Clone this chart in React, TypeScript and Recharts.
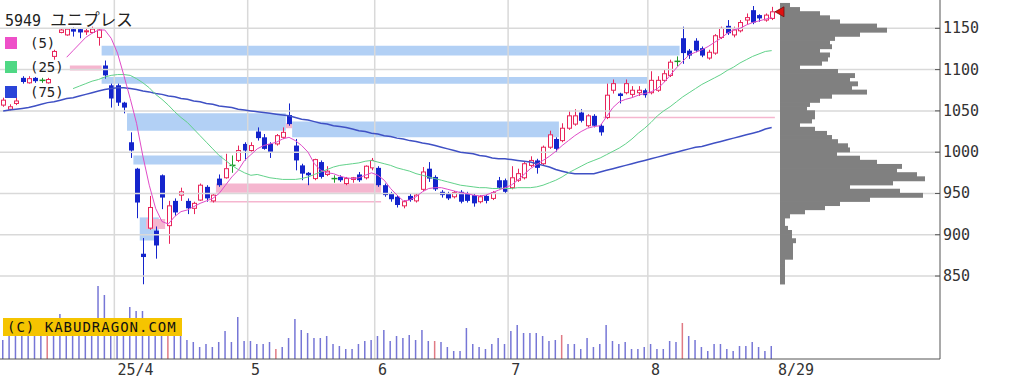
import React from "react";
import {
  Bar,
  BarChart,
  Cell,
  ComposedChart,
  Line,
  ReferenceArea,
  ReferenceDot,
  ReferenceLine,
  XAxis,
  YAxis,
} from "recharts";

const MONO = '"DejaVu Sans Mono", monospace';
const CJK = '"Noto Sans CJK JP", sans-serif';

// daily OHLC, 2025 March .. 8/29
const opens = [
  1057, 1052, 1059, 1090, 1084, 1090, 1087, 1084, 1116, 1145,
  1142, 1149, 1149, 1146, 1145, 1139, 1105, 1081, 1081, 1060,
  1012, 980, 877, 908, 905, 972, 911, 941, 948, 941,
  932, 942, 958, 941, 968, 969, 984, 990, 1010, 1002,
  1025, 1018, 1010, 1010, 1018, 1045, 1008, 984, 975, 968,
  988, 973, 968, 970, 962, 967, 973, 969, 981, 981,
  960, 950, 946, 935, 947, 941, 955, 980, 970, 952,
  950, 946, 952, 950, 948, 940, 947, 944, 966, 966,
  957, 966, 969, 984, 990, 986, 1006, 1016, 1014, 1029,
  1034, 1048, 1032, 1044, 1032, 1042, 1075, 1071, 1072, 1070,
  1072, 1075, 1072, 1075, 1087, 1093, 1110, 1138, 1123, 1135,
  1126, 1114, 1120, 1139, 1153, 1142, 1147, 1160, 1172, 1166,
  1160, 1162,
];
const highs = [
  1066, 1058, 1066, 1092, 1092, 1091, 1090, 1090, 1124, 1150,
  1150, 1151, 1150, 1150, 1152, 1150, 1111, 1083, 1083, 1061,
  1024, 981, 896, 947, 910, 973, 941, 944, 957, 944,
  940, 962, 960, 950, 973, 998, 996, 1008, 1012, 1012,
  1030, 1022, 1012, 1022, 1030, 1059, 1016, 986, 976, 992,
  990, 983, 972, 972, 970, 970, 976, 984, 993, 983,
  962, 952, 948, 942, 950, 950, 982, 988, 972, 954,
  952, 953, 954, 952, 950, 948, 948, 953, 970, 968,
  983, 980, 988, 995, 992, 1008, 1026, 1018, 1035, 1050,
  1052, 1052, 1046, 1046, 1034, 1083, 1088, 1072, 1088, 1080,
  1080, 1077, 1098, 1092, 1100, 1112, 1116, 1152, 1125, 1138,
  1128, 1124, 1143, 1152, 1160, 1152, 1160, 1168, 1177, 1167,
  1168, 1176,
];
const lows = [
  1055, 1050, 1057, 1083, 1083, 1084, 1084, 1083, 1112, 1144,
  1141, 1140, 1138, 1142, 1144, 1129, 1089, 1054, 1056, 1047,
  993, 920, 840, 906, 871, 931, 889, 923, 941, 925,
  925, 941, 940, 939, 958, 968, 975, 988, 990, 1000,
  1014, 1003, 993, 1008, 1016, 1032, 978, 966, 960, 966,
  968, 971, 963, 964, 960, 963, 964, 967, 978, 958,
  946, 940, 933, 932, 940, 939, 953, 964, 953, 945,
  942, 944, 938, 939, 934, 938, 938, 942, 955, 950,
  955, 964, 967, 982, 974, 984, 1004, 1000, 1012, 1027,
  1032, 1036, 1030, 1030, 1020, 1040, 1071, 1059, 1070, 1067,
  1068, 1066, 1070, 1073, 1085, 1091, 1104, 1107, 1113, 1121,
  1115, 1112, 1118, 1137, 1142, 1139, 1145, 1155, 1155, 1158,
  1158, 1160,
];
const closes = [
  1063, 1055, 1062, 1085, 1089, 1086, 1087, 1088, 1122, 1148,
  1149, 1146, 1145, 1147, 1149, 1148, 1093, 1065, 1060, 1054,
  1002, 939, 873, 933, 887, 945, 935, 927, 952, 932,
  938, 960, 944, 948, 960, 980, 984, 1002, 1002, 1008,
  1017, 1004, 1000, 1020, 1024, 1034, 990, 974, 972, 991,
  970, 977, 968, 966, 968, 969, 966, 983, 990, 960,
  948, 943, 936, 940, 942, 948, 976, 968, 955, 948,
  944, 951, 940, 941, 938, 946, 941, 951, 957, 952,
  969, 974, 986, 990, 981, 1006, 1021, 1004, 1029, 1044,
  1044, 1038, 1044, 1032, 1024, 1069, 1083, 1068, 1083, 1075,
  1075, 1069, 1087, 1087, 1095, 1109, 1110, 1120, 1117, 1123,
  1117, 1121, 1141, 1150, 1144, 1148, 1157, 1163, 1157, 1162,
  1166, 1170,
];
const volumes = [
  190, 260, 240, 280, 250, 270, 240, 250, 300, 450,
  280, 260, 270, 250, 300, 730, 640, 350, 300, 280,
  520, 480, 480, 320, 410, 300, 250, 280, 240, 190,
  170, 120, 150, 120, 170, 280, 170, 420, 180, 180,
  150, 150, 170, 100, 120, 210, 400, 290, 260, 210,
  210, 230, 150, 130, 100, 100, 150, 180, 190, 230,
  290, 180, 230, 210, 240, 190, 290, 180, 180, 170,
  120, 80, 80, 310, 150, 120, 100, 150, 210, 150,
  280, 340, 260, 260, 260, 230, 180, 190, 240, 150,
  150, 100, 210, 120, 150, 340, 180, 150, 170, 100,
  100, 120, 150, 100, 100, 180, 170, 360, 230, 190,
  120, 80, 150, 150, 100, 80, 130, 130, 170, 120,
  80, 130,
];
const redVolumeDays = [7, 26, 43, 68, 88, 107];

const N = null;
const ma5 = [
  N, N, N, N, N, N, N, N, N, N,
  1115, 1123, 1131, 1139, 1144, 1148, 1148, 1138, 1120, 1093,
  1065, 1035, 995, 960, 932, 916, 913, 922, 928, 930,
  934, 938, 941, 944, 950, 960, 970, 978, 990, 997,
  1004, 1008, 1010, 1012, 1016, 1018, 1014, 1008, 1000, 986,
  978, 975, 974, 971, 969, 968, 969, 972, 975, 972,
  966, 956, 948, 941, 942, 946, 952, 956, 957, 957,
  955, 953, 951, 950, 948, 947, 948, 951, 954, 957,
  960, 966, 973, 980, 985, 990, 995, 1001, 1008, 1014,
  1020, 1025, 1029, 1031, 1032, 1043, 1054, 1061, 1064, 1066,
  1069, 1071, 1073, 1077, 1084, 1093, 1102, 1110, 1118, 1121,
  1124, 1128, 1133, 1138, 1144, 1148, 1150, 1154, 1157, 1159,
  1161, 1163,
];
const ma25 = [
  N, N, N, N, N, N, N, N, N, N,
  N, 1077, 1080, 1083, 1086, 1088, 1091, 1093, 1094, 1094,
  1093, 1089, 1084, 1078, 1070, 1064, 1057, 1049, 1042, 1036,
  1028, 1020, 1012, 1004, 996, 990, 984, 979, 975, 972,
  973, 971, 969, 968, 967, 967, 967, 968, 970, 973,
  976, 979, 982, 984, 985, 986, 987, 989, 990, 988,
  986, 984, 981, 979, 977, 974, 972, 970, 968, 966,
  964, 962, 960, 959, 958, 957, 957, 956, 956, 956,
  956, 957, 957, 957, 958, 960, 963, 966, 970, 975,
  979, 983, 987, 990, 993, 997, 1001, 1005, 1010, 1016,
  1023, 1029, 1036, 1044, 1050, 1055, 1061, 1067, 1072, 1077,
  1082, 1086, 1090, 1094, 1099, 1103, 1108, 1112, 1116, 1119,
  1122, 1123,
];
const ma75 = [
  1050, 1051, 1052, 1053, 1054, 1056, 1058, 1060, 1061, 1063,
  1065, 1066, 1068, 1070, 1072, 1074, 1076, 1077, 1078, 1078,
  1077, 1076, 1074, 1073, 1071, 1070, 1068, 1067, 1065, 1064,
  1062, 1061, 1059, 1058, 1056, 1055, 1054, 1052, 1051, 1050,
  1049, 1048, 1047, 1046, 1045, 1044, 1042, 1040, 1039, 1037,
  1035, 1034, 1032, 1031, 1030, 1028, 1026, 1025, 1023, 1022,
  1020, 1019, 1017, 1016, 1014, 1013, 1011, 1010, 1008, 1006,
  1004, 1002, 1000, 999, 998, 996, 995, 993, 992, 992,
  991, 990, 989, 988, 986, 984, 982, 979, 977, 975,
  974, 974, 974, 974, 976, 978, 980, 982, 984, 986,
  988, 990, 992, 994, 996, 998, 1000, 1002, 1004, 1006,
  1007, 1009, 1011, 1013, 1015, 1017, 1019, 1021, 1023, 1025,
  1028, 1030,
];

// x-axis: first trading day of each month, plus the end label
const monthTicks = [18, 39, 59, 80, 102, 122];
const monthLabels = ["25/4", "5", "6", "7", "8", "8/29"];
const gridMonths = [18, 39, 59, 80, 102];
const priceTicks = [850, 900, 950, 1000, 1050, 1100, 1150];
const PRICE_DOMAIN = [749.5, 1184.3];

// support / resistance zones: [fromDay, toDay, low, high]
const blueZones = [
  [0, 121, 1180, 1184],
  [16, 106, 1117, 1129],
  [16, 101, 1083, 1091],
  [0, 2, 1084, 1088],
  [20, 44, 1026, 1047],
  [46, 87, 1018, 1037],
  [21, 34, 985, 996],
  [22, 24, 893, 921],
];
const pinkZones = [
  [0, 17, 1048, 1057],
  [11, 15, 1099, 1105],
  [23, 25, 907, 919],
  [45, 45, 1029, 1035],
  [34, 59, 951, 962],
  [33, 59, 939, 941],
  [95, 121, 1041, 1043],
];

// volume-by-price profile (5-yen bins, lower edge)
const profileLevels = [
  840, 845, 850, 855, 860, 865, 870, 875, 880, 885,
  890, 895, 900, 905, 910, 915, 920, 925, 930, 935,
  940, 945, 950, 955, 960, 965, 970, 975, 980, 985,
  990, 995, 1000, 1005, 1010, 1015, 1020, 1025, 1030, 1035,
  1040, 1045, 1050, 1055, 1060, 1065, 1070, 1075, 1080, 1085,
  1090, 1095, 1100, 1105, 1110, 1115, 1120, 1125, 1130, 1135,
  1140, 1145, 1150, 1155, 1160, 1165, 1170, 1175,
];
const profileVolumes = [
  5, 5, 5, 5, 5, 5, 13, 13, 13, 13,
  16, 12, 12, 8, 5, 5, 10, 25, 45, 60,
  90, 143, 120, 70, 113, 145, 137, 117, 122, 97,
  80, 57, 70, 68, 58, 52, 47, 35, 20, 32,
  35, 35, 27, 30, 40, 52, 87, 72, 78, 70,
  75, 58, 20, 42, 48, 50, 40, 52, 50, 55,
  80, 107, 97, 60, 50, 40, 20, 10,
];
const PROFILE_STEP = 5;
const SLOTS = 148;

const rows = Array.from({ length: SLOTS }, (_, i) =>
  i < opens.length
    ? {
        i,
        o: opens[i],
        h: highs[i],
        l: lows[i],
        c: closes[i],
        hl: [lows[i], highs[i]],
        vol: volumes[i],
        ma5: ma5[i],
        ma25: ma25[i],
        ma75: ma75[i],
      }
    : { i, o: null, h: null, l: null, c: null, hl: null, vol: null, ma5: null, ma25: null, ma75: null }
);

const profileRows = profileLevels.map((lv, k) => ({
  mid: lv + PROFILE_STEP / 2,
  vol: profileVolumes[k],
}));

const UP = "#e8245a";
const DOWN = "#1424cc";
const FLAT = "#1f9a2a";

const CandleShape = (props: any) => {
  const { x, y, width, height, payload } = props;
  if (!payload || payload.o == null) return null;
  const { o, h, l, c } = payload;
  const top = Math.min(y, y + height);
  const span = Math.abs(height);
  const k = h === l ? 0 : span / (h - l);
  const py = (v: number) => top + (h - v) * k;
  const cx = Math.round(x + width / 2) + 0.5;
  const bTop = py(Math.max(o, c));
  const bBot = py(Math.min(o, c));
  if (c > o) {
    return (
      <g>
        <line x1={cx} x2={cx} y1={py(h)} y2={bTop} stroke={UP} />
        <line x1={cx} x2={cx} y1={bBot} y2={py(l)} stroke={UP} />
        <rect x={cx - 2} y={bTop} width={4} height={Math.max(bBot - bTop, 1)} fill="#fff" stroke={UP} />
      </g>
    );
  }
  if (c < o) {
    return (
      <g>
        <line x1={cx} x2={cx} y1={py(h)} y2={py(l)} stroke={DOWN} />
        <rect x={cx - 2.5} y={bTop} width={5} height={Math.max(bBot - bTop, 1.5)} fill={DOWN} />
      </g>
    );
  }
  return (
    <g>
      <line x1={cx} x2={cx} y1={py(h)} y2={py(l)} stroke={FLAT} />
      <line x1={cx - 3} x2={cx + 3} y1={py(o)} y2={py(o)} stroke={FLAT} strokeWidth={1.5} />
    </g>
  );
};

// horizontal profile bar, slightly overdrawn so neighbouring bins join up
const ProfileShape = (props: any) => {
  const { x, y, width, height } = props;
  if (!width) return null;
  return <rect x={x} y={y - 0.6} width={width} height={height + 1.2} fill="#808080" />;
};

const MonthTick = (props: any) => {
  const { x, y, payload } = props;
  const k = monthTicks.indexOf(payload.value);
  return (
    <text x={x} y={y + 11} fontFamily={MONO} fontSize={15} fill="#333" textAnchor="start" dominantBaseline="central">
      {monthLabels[k]}
    </text>
  );
};

const PriceTick = (props: any) => {
  const { x, y, payload } = props;
  return (
    <g>
      <line x1={x - 8} x2={x - 3} y1={y} y2={y} stroke="#555" />
      <text x={x} y={y} fontFamily={MONO} fontSize={15} fill="#333" dominantBaseline="central">
        {payload.value}
      </text>
    </g>
  );
};

const Pointer = (props: any) => {
  const { cx, cy } = props;
  return (
    <polygon
      points={`${cx - 5},${cy} ${cx + 4},${cy - 5} ${cx + 4},${cy + 5}`}
      fill="#e01010"
      stroke="#701010"
      strokeWidth={0.8}
    />
  );
};

const legendRows = [
  { label: "(5)", color: "#ee4fc8", top: 37 },
  { label: "(25)", color: "#4fd884", top: 61 },
  { label: "(75)", color: "#2a44d8", top: 86 },
];

export default function App() {
  return (
    <div style={{ position: "relative", width: 1009, height: 385, background: "#fff" }}>
      <style>{"body{margin:0}"}</style>
      <ComposedChart width={1009} height={385} data={rows} margin={{ top: 0, right: 0, bottom: 0, left: 0 }}>
        <XAxis
          xAxisId="d"
          dataKey="i"
          type="category"
          ticks={monthTicks}
          interval={0}
          tick={<MonthTick />}
          tickLine={false}
          tickSize={0}
          tickMargin={0}
          axisLine={{ stroke: "#555" }}
          height={26}
        />
        <XAxis xAxisId="d2" dataKey="i" type="category" hide />
        <YAxis
          yAxisId="p"
          orientation="right"
          type="number"
          domain={PRICE_DOMAIN}
          ticks={priceTicks}
          width={69}
          tickSize={0}
          tickMargin={3}
          tick={<PriceTick />}
          axisLine={{ stroke: "#555" }}
          allowDataOverflow
        />
        <YAxis yAxisId="v" type="number" domain={[0, 3590]} hide allowDataOverflow />

        {priceTicks.map((t) => (
          <ReferenceLine key={`g${t}`} xAxisId="d" yAxisId="p" y={t} stroke="#d9d9d9" strokeWidth={1.5} />
        ))}
        {gridMonths.map((m) => (
          <ReferenceLine key={`m${m}`} xAxisId="d" yAxisId="p" x={m} position="start" stroke="#d9d9d9" strokeWidth={1.5} />
        ))}

        {blueZones.map(([a, b, lo, hi], k) => (
          <ReferenceArea
            key={`b${k}`}
            xAxisId="d"
            yAxisId="p"
            x1={a}
            x2={b}
            y1={lo}
            y2={hi}
            fill="#b2d0f5"
            fillOpacity={1}
            stroke="none"
          />
        ))}
        {pinkZones.map(([a, b, lo, hi], k) => (
          <ReferenceArea
            key={`p${k}`}
            xAxisId="d"
            yAxisId="p"
            x1={a}
            x2={b}
            y1={lo}
            y2={hi}
            fill="#f5b6cf"
            fillOpacity={1}
            stroke="none"
          />
        ))}

        <Bar xAxisId="d2" yAxisId="v" dataKey="vol" barSize={1.5} isAnimationActive={false} activeBar={false}>
          {rows.map((r) => (
            <Cell key={r.i} fill={redVolumeDays.includes(r.i) ? "#e07a84" : "#7676d6"} />
          ))}
        </Bar>

        <Line xAxisId="d" yAxisId="p" dataKey="ma75" stroke="#3f50c4" strokeWidth={1.5} dot={false} activeDot={false} isAnimationActive={false} />
        <Line xAxisId="d" yAxisId="p" dataKey="ma25" stroke="#62d28a" strokeWidth={1} dot={false} activeDot={false} isAnimationActive={false} />
        <Line xAxisId="d" yAxisId="p" dataKey="ma5" stroke="#e04cc8" strokeWidth={1} dot={false} activeDot={false} isAnimationActive={false} />

        <Bar xAxisId="d" yAxisId="p" dataKey="hl" barSize={5} shape={<CandleShape />} activeBar={false} isAnimationActive={false} />
      </ComposedChart>

      {/* volume-by-price profile and last-price pointer, drawn on the same price scale */}
      <div style={{ position: "absolute", left: 770, top: 0 }}>
        <BarChart
          width={170}
          height={385}
          data={profileRows}
          layout="vertical"
          margin={{ top: 0, right: 0, bottom: 26, left: 10 }}
          barCategoryGap={0}
        >
          <XAxis type="number" dataKey="vol" domain={[0, 160]} hide allowDataOverflow />
          <YAxis type="number" dataKey="mid" scale="linear" domain={PRICE_DOMAIN} reversed hide allowDataOverflow />
          <Bar dataKey="vol" fill="#808080" barSize={4.2} shape={<ProfileShape />} activeBar={false} isAnimationActive={false} />
          <ReferenceDot x={0} y={closes[closes.length - 1]} r={5} shape={<Pointer />} />
        </BarChart>
      </div>

      <div style={{ position: "absolute", left: 5, top: 8, lineHeight: "22px", color: "#222", whiteSpace: "nowrap" }}>
        <span style={{ fontFamily: MONO, fontSize: 15 }}>5949 </span>
        <span style={{ fontFamily: CJK, fontSize: 16.5 }}>ユニプレス</span>
      </div>
      {legendRows.map((r) => (
        <div key={r.label} style={{ position: "absolute", left: 5, top: r.top, height: 12, display: "flex", alignItems: "center" }}>
          <div style={{ width: 12, height: 12, background: r.color }} />
          <span style={{ marginLeft: 13, fontFamily: MONO, fontSize: 14, color: "#222", lineHeight: "12px" }}>{r.label}</span>
        </div>
      ))}
      <div
        style={{
          position: "absolute",
          left: 3,
          top: 318,
          width: 179,
          height: 18,
          background: "#f5c400",
          fontFamily: MONO,
          fontSize: 14,
          letterSpacing: 1,
          lineHeight: "18px",
          color: "#111",
          paddingLeft: 4,
          boxSizing: "border-box",
          whiteSpace: "nowrap",
        }}
      >
        (C) KABUDRAGON.COM
      </div>
    </div>
  );
}
